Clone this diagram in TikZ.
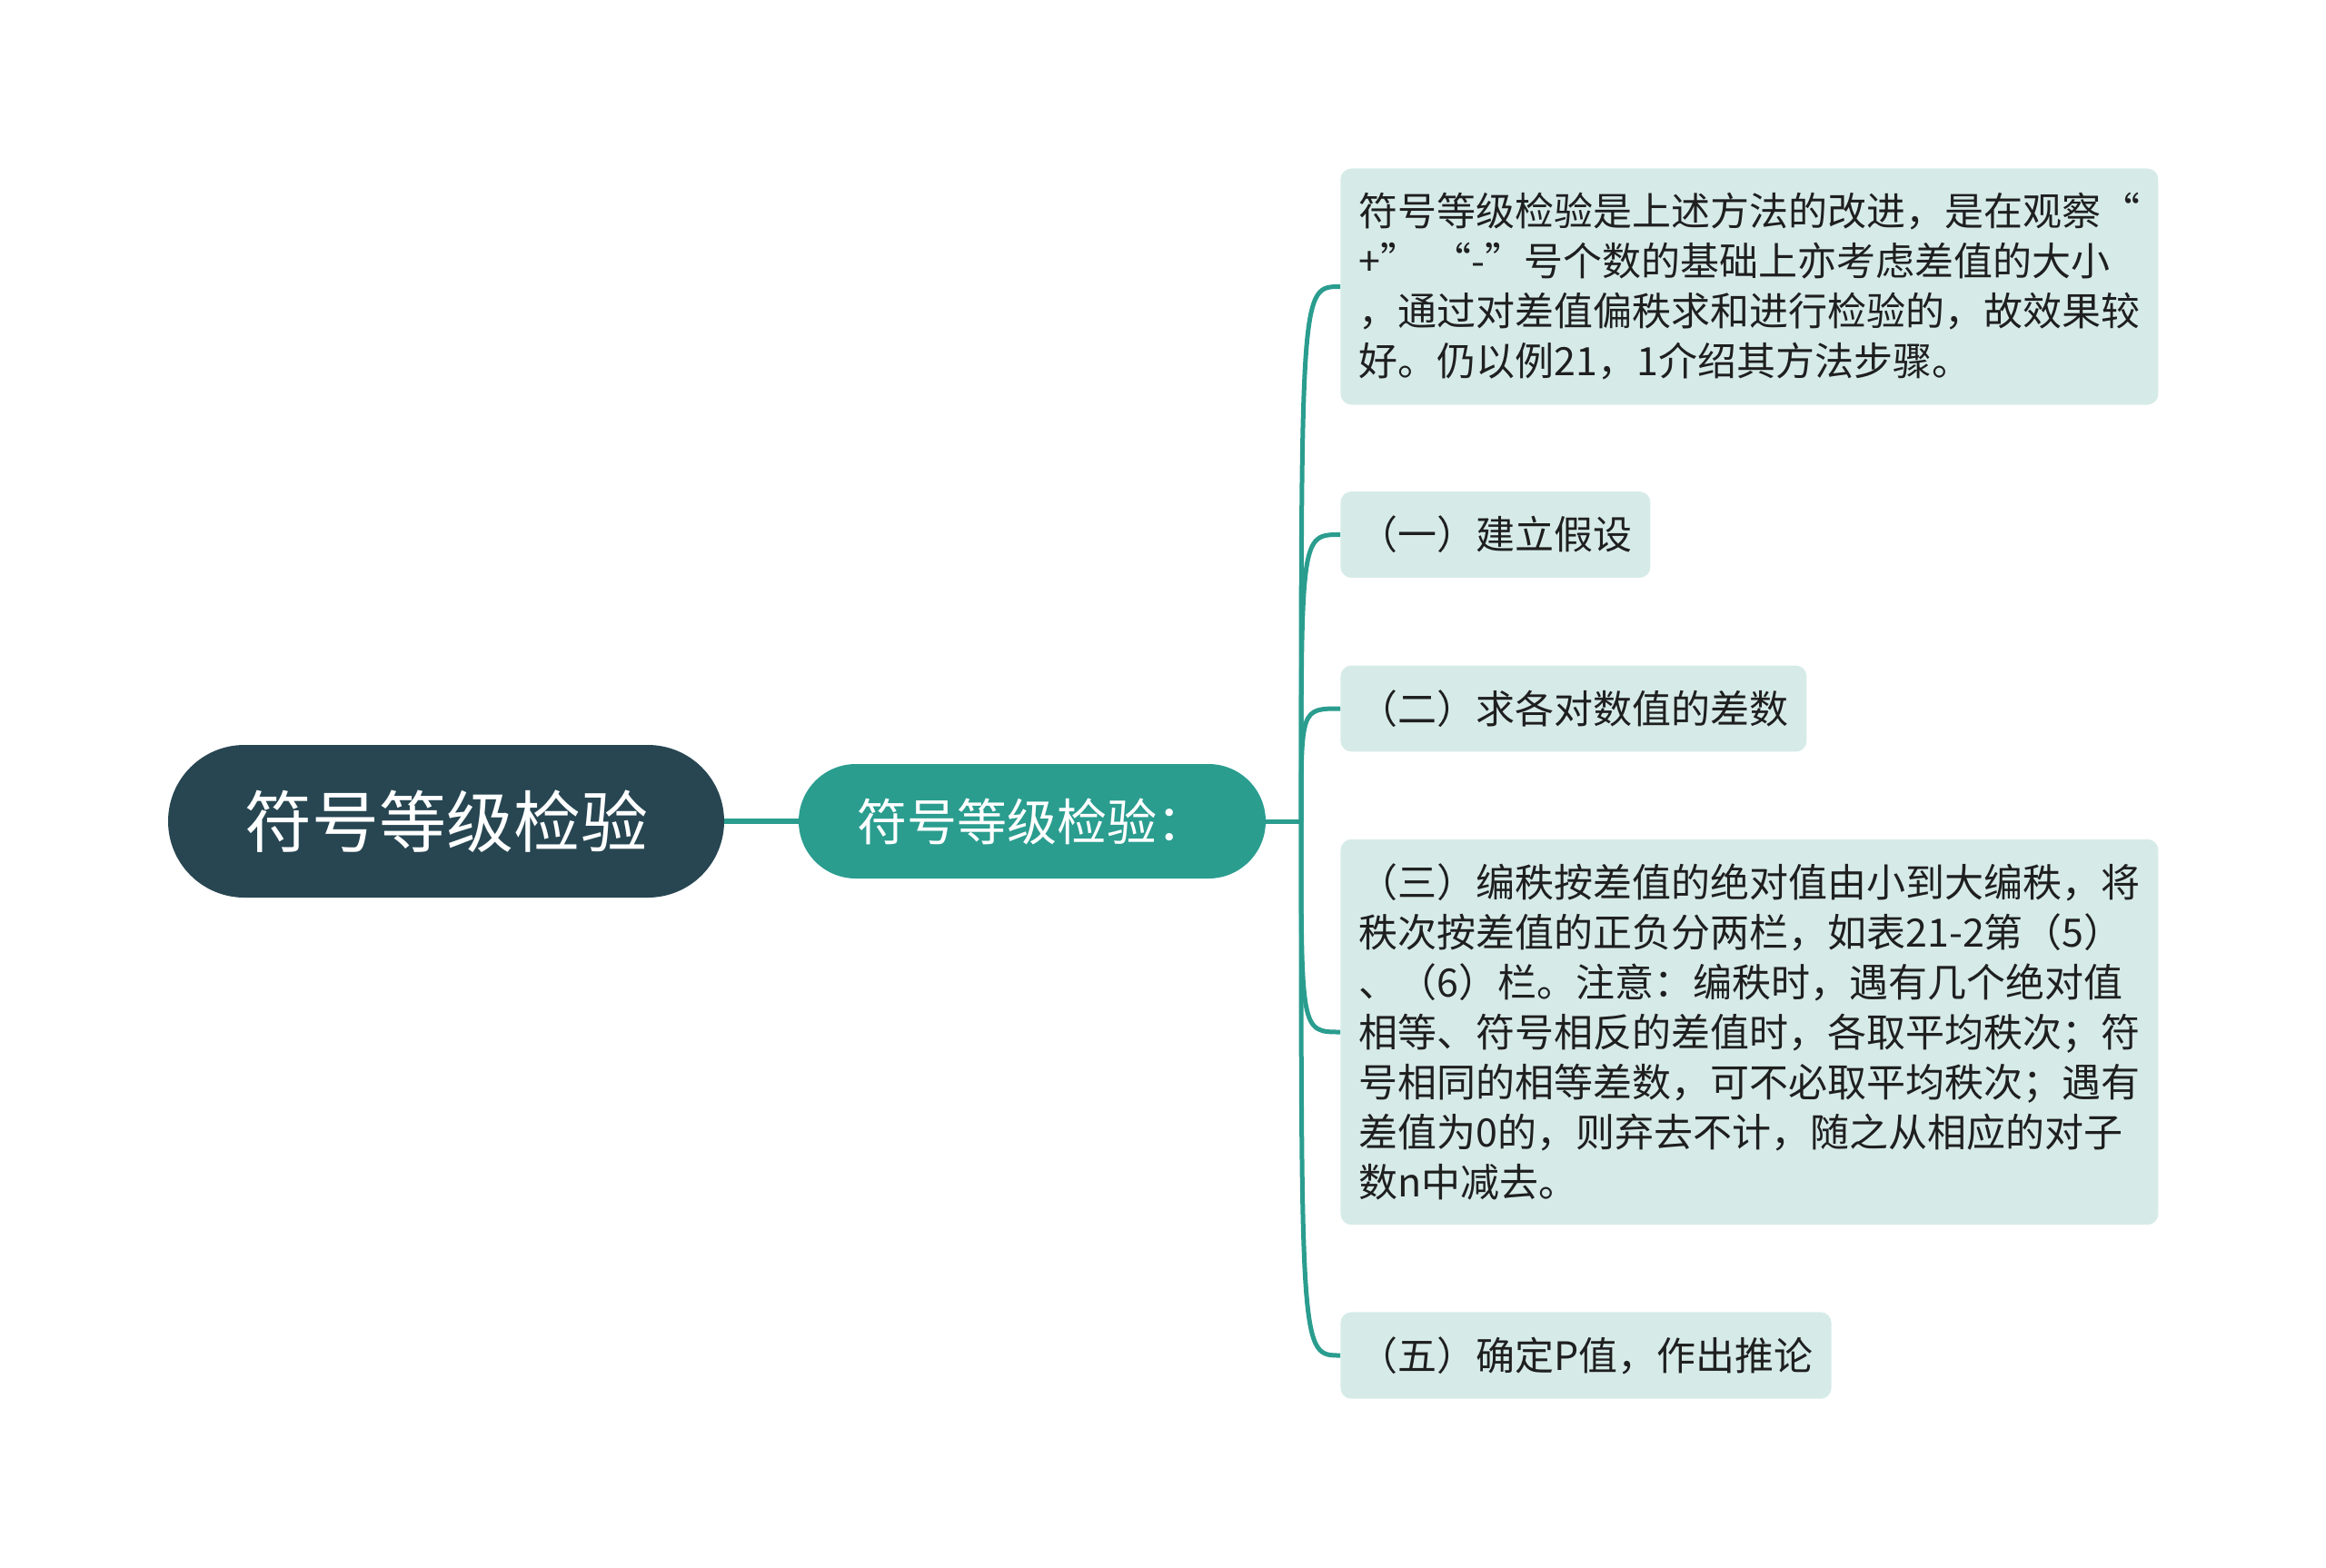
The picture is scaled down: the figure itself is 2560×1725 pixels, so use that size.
\documentclass[tikz,border=0pt]{standalone}
\usepackage{fontspec}
\setmainfont{Noto Sans CJK SC}
\usepackage{tikz}

\definecolor{rootblue}{HTML}{274652}
\definecolor{mmteal}{HTML}{2A9D8F}
\definecolor{leafbg}{HTML}{D6EBE8}
\definecolor{leaftext}{HTML}{1F1F1F}

\begin{document}
\begin{tikzpicture}[x=0.5pt, y=-0.5pt,
	rootnode/.style={fill=rootblue, text=white, rounded corners=42pt, minimum width=306pt, minimum height=84pt, inner sep=0pt, font=\fontsize{37}{44}\selectfont},
	subnode/.style={fill=mmteal, text=white, rounded corners=31.5pt, minimum width=257pt, minimum height=63pt, inner sep=0pt, font=\fontsize{27.5}{33}\selectfont},
	leafnode/.style={fill=leafbg, text=leaftext, rounded corners=6pt, anchor=west, inner xsep=10pt, inner ysep=13.5pt, align=left, font=\fontsize{21.5}{27.5}\selectfont},
	widenode/.style={leafnode, text width=430pt},
	branch/.style={draw=mmteal, line width=2.5pt},
	mainlink/.style={branch, line width=3pt}]

\useasboundingbox (0,0) rectangle (2560,1725);

\node[rootnode] (root) at (491, 904) {符号等级检验};
\node[subnode] (sub) at (1136, 904) {符号等级检验：};
\coordinate (junc) at (1432, 904);

\node[widenode] (l1) at (1475, 315.5) {符号等级检验是上述方法的改进，是在观察“\\+” “-”号个数的基础上亦考虑差值的大小\\，通过对差值偏秩求和进行检验的，故效果较\\好。仍以例21，1介绍其方法步骤。};
\node[leafnode] (l2) at (1475, 588.5) {（一）建立假设};
\node[leafnode] (l3) at (1475, 780) {（二）求各对数值的差数};
\node[widenode] (l4) at (1475, 1136) {（三）编秩按差值的绝对值由小到大编秩，将\\秩次按差值的正负分两栏，如表21-2第（5）\\、（6）栏。注意：编秩时，遇有几个绝对值\\相等、符号相反的差值时，各取平均秩次；符\\号相同的相等差数，可不必取平均秩次；遇有\\差值为0的，则弃去不计，随之从相应的对子\\数n中减去。};
\node[leafnode] (l5) at (1475, 1492) {（五）确定P值，作出推论};

\draw[mainlink] (root.east) -- (sub.west);
\draw[branch] (sub.east) -- (junc);
\foreach \n in {l1,l2,l3,l4,l5}
	\draw[branch] (junc) .. controls (junc |- \n.west) .. (\n.west);

\end{tikzpicture}
\end{document}
